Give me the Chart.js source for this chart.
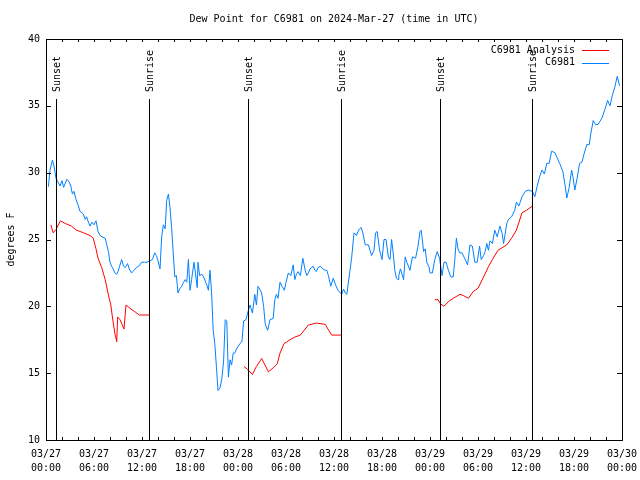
<!DOCTYPE html>
<html>
<head>
<meta charset="utf-8">
<script src="https://cdn.jsdelivr.net/npm/chart.js@4/dist/chart.umd.min.js"></script>
<style>
  body { margin: 0; background: #fff; }
  #wrap { width: 640px; height: 480px; }
</style>
</head>
<body>
<div id="wrap"><canvas id="c" width="640" height="480"></canvas></div>
<script>
// hours since 03/27 00:00 UTC
const obsHours = [0.3,0.5,0.8,1.0,1.25,1.5,1.75,2.0,2.2,2.6,2.9,3.1,3.3,3.5,3.75,4.0,4.25,4.5,4.67,4.9,5.08,5.3,5.5,5.75,6.0,6.25,6.5,6.75,7.0,7.4,7.6,7.8,8.0,8.2,8.4,8.6,8.84,9.0,9.2,9.46,9.7,9.9,10.2,10.4,10.7,11.0,11.3,11.6,11.96,12.3,12.6,13.0,13.3,13.6,13.8,14.0,14.25,14.46,14.67,14.9,15.08,15.3,15.5,15.7,15.9,16.1,16.3,16.5,16.7,16.96,17.2,17.4,17.6,17.8,18.0,18.2,18.5,18.7,18.9,19.0,19.2,19.5,19.7,19.9,20.1,20.3,20.5,20.7,20.9,21.1,21.3,21.5,21.75,21.96,22.2,22.4,22.6,22.8,23.0,23.2,23.4,23.6,23.8,24.0,24.25,24.5,24.7,25.0,25.2,25.5,25.8,26.1,26.3,26.5,26.7,26.96,27.2,27.4,27.7,28.0,28.4,28.6,28.8,29.0,29.25,29.5,29.8,30.0,30.3,30.6,30.9,31.1,31.3,31.5,31.8,32.1,32.4,32.6,32.8,33.0,33.4,33.6,33.8,34.0,34.3,34.6,34.9,35.1,35.3,35.6,35.9,36.2,36.5,36.96,37.2,37.4,37.6,38.0,38.2,38.5,38.8,39.0,39.2,39.4,39.6,39.9,40.3,40.7,41.0,41.2,41.4,41.7,42.0,42.25,42.5,42.8,43.0,43.2,43.4,43.6,43.8,44.0,44.1,44.3,44.7,44.9,45.1,45.5,45.8,46.2,46.5,46.75,46.9,47.0,47.2,47.4,47.6,47.9,48.0,48.3,48.6,48.9,49.2,49.5,49.75,50.0,50.3,50.6,50.9,51.1,51.3,51.5,51.7,52.0,52.4,52.7,53.0,53.3,53.6,53.9,54.2,54.4,54.7,54.9,55.1,55.3,55.5,55.8,56.1,56.4,56.75,57.0,57.2,57.6,57.8,58.2,58.6,58.8,59.1,59.5,59.9,60.3,60.8,61.1,61.4,61.7,62.0,62.3,62.6,62.9,63.2,63.6,63.9,64.2,64.6,64.9,65.1,65.4,65.7,65.9,66.1,66.4,66.7,67.0,67.25,67.6,67.9,68.1,68.4,68.7,69.0,69.5,69.9,70.2,70.5,70.8,71.1,71.4,71.7]
const obsDew = [28.95,30.2,30.94,30.5,29.57,29.3,29.0,29.4,28.9,29.5,29.3,29.0,28.4,28.6,28.0,27.6,27.1,27.0,26.9,26.5,26.7,26.3,26.0,26.3,26.1,26.4,25.6,25.3,25.2,25.1,24.6,24.1,23.3,23.0,22.8,22.5,22.4,22.6,23.0,23.5,23.0,22.9,23.2,22.8,22.5,22.7,22.9,23.0,23.3,23.3,23.3,23.4,23.5,24.0,23.8,23.4,22.8,25.2,26.1,25.8,27.9,28.4,27.4,25.9,24.0,22.2,22.3,21.0,21.3,21.5,21.8,22.0,21.8,23.5,21.2,22.0,23.3,22.4,21.4,23.3,22.3,22.4,22.2,21.9,21.6,21.2,22.7,21.0,18.2,17.2,15.5,13.7,13.9,14.5,15.9,19.0,18.9,14.7,16.0,15.6,16.5,16.5,16.8,17.0,17.2,17.4,18.9,19.0,19.5,20.1,19.5,20.9,20.1,21.5,21.3,21.0,20.0,18.7,18.2,19.0,19.1,20.5,20.9,20.6,21.8,21.5,21.2,21.8,22.5,22.3,23.1,22.0,22.4,22.6,22.3,23.6,22.7,22.3,22.5,22.8,23.0,22.7,22.6,22.9,23.0,22.8,22.7,22.7,22.3,21.5,22.1,21.6,21.2,20.9,21.3,21.0,20.9,22.7,23.6,25.5,25.3,25.6,25.8,25.9,25.5,24.6,24.6,23.8,24.2,25.5,25.6,24.2,23.5,25.0,25.0,23.7,23.5,25.0,24.0,22.7,22.1,22.0,22.3,22.8,22.0,23.7,23.3,22.7,23.7,23.6,24.5,25.6,25.7,25.2,24.1,24.3,23.3,22.9,22.5,22.5,23.5,24.1,23.6,22.3,23.3,23.3,22.7,22.2,22.2,23.5,25.1,24.3,24.0,24.0,23.5,23.1,24.6,24.5,23.3,23.3,24.5,23.5,23.8,24.1,24.7,24.2,24.9,24.7,25.7,25.2,26.0,25.5,24.7,26.2,26.5,26.7,27.2,27.8,27.5,28.2,28.6,28.7,28.6,28.2,29.0,29.7,30.2,29.9,30.7,30.7,31.6,31.5,31.1,30.7,30.1,29.0,28.1,28.9,30.2,29.6,28.7,29.6,30.7,30.8,31.4,32.1,32.1,32.9,33.9,33.6,33.6,34.1,34.8,35.4,35.0,35.8,36.4,37.2,36.5]

// analysis only covers the night periods, null = gap
const anaHours = [0.6,0.9,1.25,1.8,2.4,3.2,3.8,4.7,5.5,5.9,6.25,6.5,6.96,7.4,7.8,8.1,8.3,8.6,8.84,8.96,9.25,9.75,10.0,10.5,11.1,11.67,12.9,
  18,
  24.75,25.17,25.8,26.3,26.96,27.8,28.4,28.9,29.25,29.75,30.5,31.1,31.8,32.25,32.8,33.8,34.9,35.7,36.9,
  42,
  48.6,49.0,49.3,49.75,50.3,50.9,51.75,52.2,52.8,53.4,54.0,54.7,55.3,55.8,56.5,57.6,58.2,58.8,59.5,60.1,60.8]
const anaDew = [26.1,25.5,25.75,26.4,26.2,26.0,25.7,25.5,25.3,25.1,24.3,23.6,22.9,22.0,20.85,20.1,19.2,18.0,17.35,19.2,19.0,18.3,20.1,19.85,19.6,19.35,19.35,
  null,
  15.5,15.3,14.9,15.5,16.1,15.1,15.4,15.7,16.5,17.2,17.5,17.7,17.85,18.2,18.6,18.75,18.65,17.85,17.85,
  null,
  20.5,20.5,20.2,20.0,20.35,20.6,20.9,20.8,20.6,21.1,21.35,22.2,22.96,23.5,24.2,24.6,25.1,25.7,27.0,27.2,27.5]

const sunHours = [1.25, 12.875, 25.25, 36.875, 49.25, 60.75]
const sunLabels = ['Sunset', 'Sunrise', 'Sunset', 'Sunrise', 'Sunset', 'Sunrise']

const yTicks = [10, 15, 20, 25, 30, 35, 40]
const dayLabels = ['03/27', '03/28', '03/29', '03/30']

const FONT = '10px "DejaVu Sans Mono", monospace'

function tickLabel(h) {
  if (h % 6 != 0) return ''
  let d = dayLabels[Math.floor(h / 24)]
  let hh = h % 24
  return [d, (hh < 10 ? '0' : '') + hh + ':00']
}

// frame, inward ticks, sun lines, legend and title
const gnuplotBits = {
  id: 'gnuplotBits',
  afterDraw(chart) {
    const ctx = chart.ctx
    const a = chart.chartArea
    const xs = chart.scales.x, ys = chart.scales.y
    ctx.save()
    ctx.strokeStyle = '#000'
    ctx.lineWidth = 1
    ctx.strokeRect(Math.round(a.left) + 0.5, Math.round(a.top) + 0.5, Math.round(a.right - a.left), Math.round(a.bottom - a.top))

    ctx.beginPath()
    xs.ticks.forEach(t => {
      let px = Math.round(xs.getPixelForValue(t.value)) + 0.5
      ctx.moveTo(px, a.bottom); ctx.lineTo(px, a.bottom - 3)
      ctx.moveTo(px, a.top); ctx.lineTo(px, a.top + 3)
    })
    ys.ticks.forEach(t => {
      let py = Math.round(ys.getPixelForValue(t.value)) + 0.5
      ctx.moveTo(a.left, py); ctx.lineTo(a.left + 5, py)
      ctx.moveTo(a.right, py); ctx.lineTo(a.right - 5, py)
    })
    ctx.stroke()

    // sunrise / sunset markers
    ctx.font = FONT
    ctx.fillStyle = '#000'
    sunHours.forEach((h, i) => {
      let px = Math.round(xs.getPixelForValue(h)) + 0.5
      ctx.beginPath()
      ctx.moveTo(px, a.top + 60); ctx.lineTo(px, a.bottom)
      ctx.stroke()
      ctx.save()
      ctx.translate(px + 1, a.top + 53)
      ctx.rotate(-Math.PI / 2)
      ctx.textAlign = 'left'
      ctx.textBaseline = 'middle'
      ctx.fillText(sunLabels[i], 0, 0)
      ctx.restore()
    })

    // legend, text left of the sample line
    ctx.textAlign = 'right'
    ctx.textBaseline = 'middle'
    chart.data.datasets.forEach((ds, i) => {
      let y = a.top + 11 + i * 12.5
      ctx.fillStyle = '#000'
      ctx.fillText(ds.label, a.right - 47, y)
      ctx.strokeStyle = ds.borderColor
      ctx.beginPath()
      ctx.moveTo(a.right - 40, Math.round(y) + 0.5); ctx.lineTo(a.right - 13, Math.round(y) + 0.5)
      ctx.stroke()
    })

    ctx.fillStyle = '#000'
    ctx.textAlign = 'center'
    ctx.fillText('Dew Point for C6981 on 2024-Mar-27 (time in UTC)', (a.left + a.right) / 2, 19)
    ctx.restore()
  }
}

new Chart(document.getElementById('c'), {
  type: 'line',
  data: {
    datasets: [
      {
        label: 'C6981 Analysis',
        data: anaHours.map((h, i) => ({ x: h, y: anaDew[i] })),
        borderColor: '#ff0000',
        borderWidth: 1,
        pointRadius: 0,
        spanGaps: false
      },
      {
        label: 'C6981',
        data: obsHours.map((h, i) => ({ x: h, y: obsDew[i] })),
        borderColor: '#0080ff',
        borderWidth: 1,
        pointRadius: 0
      }
    ]
  },
  options: {
    responsive: false,
    animation: false,
    layout: { padding: { top: 39, right: 18, left: 0, bottom: 0 } },
    plugins: { legend: { display: false }, title: { display: false }, tooltip: { enabled: false } },
    scales: {
      x: {
        type: 'linear',
        min: 0, max: 72,
        grid: { display: false, drawTicks: false },
        border: { display: false },
        afterFit: s => { s.height = 40; s.paddingLeft = 0; s.paddingRight = 0 },
        ticks: {
          stepSize: 2,
          autoSkip: false,
          maxRotation: 0,
          padding: 7,
          color: '#000',
          font: { family: '"DejaVu Sans Mono", monospace', size: 10, lineHeight: 1.4 },
          callback: v => tickLabel(v)
        }
      },
      y: {
        min: 10, max: 40,
        grid: { display: false, drawTicks: false },
        border: { display: false },
        afterFit: s => { s.width = 46; s.paddingTop = 0; s.paddingBottom = 0 },
        afterBuildTicks: s => { s.ticks = yTicks.map(v => ({ value: v })) },
        ticks: {
          padding: 6,
          color: '#000',
          font: { family: '"DejaVu Sans Mono", monospace', size: 10 }
        },
        title: {
          display: true,
          text: 'degrees F',
          color: '#000',
          padding: { top: 5, bottom: 0 },
          font: { family: '"DejaVu Sans Mono", monospace', size: 10, lineHeight: 1.2 }
        }
      }
    }
  },
  plugins: [gnuplotBits]
})
</script>
</body>
</html>
